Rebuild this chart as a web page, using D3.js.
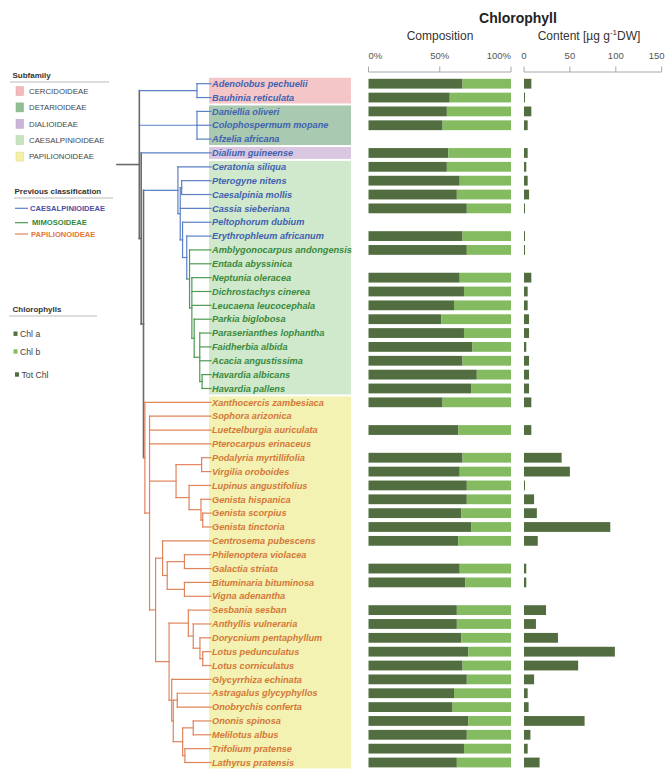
<!DOCTYPE html>
<html><head><meta charset="utf-8">
<script src="https://cdn.jsdelivr.net/npm/d3@7"></script>
<style>body{margin:0;background:#fff;} svg{display:block;font-family:"Liberation Sans",Arial,Helvetica,sans-serif;}</style>
</head><body><svg id="c" width="666" height="775"></svg>
<script>
// ---------------- DATA ----------------
const species = [
 "Adenolobus pechuelii","Bauhinia reticulata","Daniellia oliveri","Colophospermum mopane","Afzelia africana",
 "Dialium guineense","Ceratonia siliqua","Pterogyne nitens","Caesalpinia mollis","Cassia sieberiana",
 "Peltophorum dubium","Erythrophleum africanum","Amblygonocarpus andongensis","Entada abyssinica","Neptunia oleracea",
 "Dichrostachys cinerea","Leucaena leucocephala","Parkia biglobosa","Paraserianthes lophantha","Faidherbia albida",
 "Acacia angustissima","Havardia albicans","Havardia pallens","Xanthocercis zambesiaca","Sophora arizonica",
 "Luetzelburgia auriculata","Pterocarpus erinaceus","Podalyria myrtillifolia","Virgilia oroboides","Lupinus angustifolius",
 "Genista hispanica","Genista scorpius","Genista tinctoria","Centrosema pubescens","Philenoptera violacea",
 "Galactia striata","Bituminaria bituminosa","Vigna adenantha","Sesbania sesban","Anthyllis vulneraria",
 "Dorycnium pentaphyllum","Lotus pedunculatus","Lotus corniculatus","Glycyrrhiza echinata","Astragalus glycyphyllos",
 "Onobrychis conferta","Ononis spinosa","Melilotus albus","Trifolium pratense","Lathyrus pratensis"];

const subfamilies = ["CERCIDOIDEAE","DETARIOIDEAE","DIALIOIDEAE","CAESALPINIOIDEAE","PAPILIONOIDEAE"];
const subfamilyIndex = [0,0,1,1,1,2,3,3,3,3,3,3,3,3,3,3,3,3,3,3,3,3,3,
 4,4,4,4,4,4,4,4,4,4,4,4,4,4,4,4,4,4,4,4,4,4,4,4,4,4,4];

const previousClasses = ["CAESALPINIOIDEAE","MIMOSOIDEAE","PAPILIONOIDEAE"];
const previousIndex = [0,0,0,0,0,0,0,0,0,0,0,0,1,1,1,1,1,1,1,1,1,1,1,
 2,2,2,2,2,2,2,2,2,2,2,2,2,2,2,2,2,2,2,2,2,2,2,2,2,2,2];

// Chl a share of total chlorophyll (%), null = not measured
const chlA = [66,57,55,52,null,56,55,64,62,69,null,66,69,null,64,67,60,51,67,73,66,76,72,
 52,null,63,null,66,64,69,69,65,72,63,null,64,68,null,62,62,65,70,66,69,60,59,70,69,67,62];
// Total chlorophyll content (µg g-1 DW)
const totChl = [8,1,8,4,null,4,2.5,4,5.5,1,null,1,1,null,8,4,4,5.5,5.5,2.5,5.5,5.5,5.5,
 8,null,8,null,41,50,1,11,14,94,15,null,2.5,2.5,null,24,13,37,99,59,11,4,5,66,7,4,17];

const compTicks = [0,50,100];
const contentTicks = [0,50,100,150];
const chlLegend = ["Chl a","Chl b","Tot Chl"];

// phylogeny: internal nodes {d: node depth (0 root .. 100 tips), c: children}
const mimosoid = {d:78, c:["Amblygonocarpus andongensis","Entada abyssinica",
  {d:80.5, c:["Neptunia oleracea","Dichrostachys cinerea","Leucaena leucocephala",
    {d:83, c:["Parkia biglobosa",
      {d:89, c:["Paraserianthes lophantha","Faidherbia albida","Acacia angustissima",
        {d:91.5, c:["Havardia albicans","Havardia pallens"]}]}]}]}]};
const caesClade = {d:65.5, c:["Ceratonia siliqua",
  {d:68, c:[
    {d:69.5, c:["Pterogyne nitens","Caesalpinia mollis"]},
    "Cassia sieberiana",
    {d:70.5, c:["Peltophorum dubium",
      {d:75, c:["Erythrophleum africanum", mimosoid]}]}]}]};
const genistoids = {d:63.5, c:[
  {d:91, c:["Podalyria myrtillifolia","Virgilia oroboides"]},
  {d:77.5, c:["Lupinus angustifolius",
    {d:90.3, c:["Genista hispanica", {d:92.2, c:["Genista scorpius","Genista tinctoria"]}]}]}]};
const millettioids = {d:49, c:["Centrosema pubescens",
  {d:54, c:[
    {d:72.5, c:["Philenoptera violacea","Galactia striata"]},
    {d:72.5, c:["Bituminaria bituminosa","Vigna adenantha"]}]}]};
const robinioids = {d:76.7, c:["Sesbania sesban",
  {d:82, c:["Anthyllis vulneraria",
    {d:89.2, c:["Dorycnium pentaphyllum", {d:92.2, c:["Lotus pedunculatus","Lotus corniculatus"]}]}]}]};
const irlc = {d:58.8, c:["Glycyrrhiza echinata",
  {d:60.5, c:[
    {d:64.8, c:["Astragalus glycyphyllos","Onobrychis conferta"]},
    {d:70.6, c:[
      {d:82, c:["Ononis spinosa","Melilotus albus"]},
      {d:73, c:["Trifolium pratense","Lathyrus pratensis"]}]}]}]};
const papilionoids = {d:30, c:["Xanthocercis zambesiaca",
  {d:35, c:["Sophora arizonica","Luetzelburgia auriculata","Pterocarpus erinaceus", genistoids,
    {d:41.5, c:[millettioids, {d:56, c:[robinioids, irlc]}]}]}]};
const tree = {d:0, c:[{d:24, c:[
  {d:86, c:["Adenolobus pechuelii","Bauhinia reticulata"]},
  {d:86, c:["Daniellia oliveri","Colophospermum mopane","Afzelia africana"]},
  {d:26, c:["Dialium guineense", {d:28.5, c:[caesClade, papilionoids]}]}]}]};

// ---------------- STYLE ----------------
const FONT = '"Liberation Sans",Arial,Helvetica,sans-serif';
const bgColors = ["#f5c6c8","#a9c9b1","#d9c6e0","#d0e8cc","#f3f2b3"];
const boxColors = ["#f4b9bb","#8fbf95","#cbb4da","#c6e5be","#f4f0a4"];
const textColors = ["#3f62b0","#3a8a3c","#d57838"];
const lineColors = ["#5a80c6","#4d9a52","#e0845a"];
const legendColors = ["#4a4fa6","#2f8a3f","#e5763a"];
const GRAY = "#6a6a6a";
const DARK = "#526e40", LIGHT = "#84ba60";

const svg = d3.select("#c");

// scales
const y = d3.scalePoint().domain(species).range([83.7, 762.5]);
const step = y.step();
const xTree = d3.scaleLinear().domain([0,100]).range([117,210]);
const xComp = d3.scaleLinear().domain([0,100]).range([368.5,511]);
const xCont = d3.scaleLinear().domain([0,150]).range([524,661.7]);

// ---------------- SUBFAMILY BACKGROUNDS ----------------
subfamilies.forEach((s,i)=>{
  const rows = species.filter((n,k)=>subfamilyIndex[k]===i);
  const y0 = y(rows[0]) - step/2 + 1, y1 = y(rows[rows.length-1]) + step/2 - 1;
  svg.append("rect").attr("x",209).attr("y",y0).attr("width",142).attr("height",y1-y0).attr("fill",bgColors[i]);
});

// ---------------- TREE ----------------
const root = d3.hierarchy(tree, d => typeof d === "string" ? null : d.c);
root.eachAfter(n=>{
  if(!n.children){ n.px = xTree(100); n.py = y(n.data); n.cls = previousIndex[species.indexOf(n.data)]; }
  else {
    n.px = xTree(n.data.d);
    n.py = (n.children[0].py + n.children[n.children.length-1].py)/2;
    const set = new Set(n.leaves().map(l=>previousIndex[species.indexOf(l.data)]));
    n.cls = set.size===1 ? [...set][0] : (set.has(2) ? -1 : 0);
  }
});
const col = c => c<0 ? GRAY : lineColors[c];
const gT = svg.append("g").attr("fill","none").attr("stroke-linecap","square");
root.descendants().filter(n=>n.children && n.children.length>1).forEach(n=>{
  gT.append("line").attr("x1",n.px).attr("x2",n.px)
    .attr("y1",n.children[0].py).attr("y2",n.children[n.children.length-1].py)
    .attr("stroke",col(n.cls)).attr("stroke-width",n.cls<0?1.6:1.2);
});
root.descendants().filter(n=>n.parent).forEach(n=>{
  gT.append("line").attr("x1",n.parent.px).attr("x2",n.children?n.px:n.px+1)
    .attr("y1",n.py).attr("y2",n.py)
    .attr("stroke",col(n.cls)).attr("stroke-width",n.cls<0?1.6:1.2);
});

// species labels
svg.append("g").selectAll("text").data(species).join("text")
  .attr("x",212).attr("y",d=>y(d)).attr("dy","0.35em")
  .attr("font-size",9.2).attr("font-weight","bold").attr("font-style","italic")
  .attr("fill",(d,i)=>textColors[previousIndex[i]]).text(d=>d);

// ---------------- HEADERS & AXES ----------------
svg.append("text").attr("x",518).attr("y",23).attr("text-anchor","middle")
  .attr("font-size",14).attr("font-weight","bold").attr("fill","#222").text("Chlorophyll");
svg.append("text").attr("x",440).attr("y",40).attr("text-anchor","middle")
  .attr("font-size",12).attr("fill","#333").text("Composition");
const ct = svg.append("text").attr("x",589).attr("y",40).attr("text-anchor","middle")
  .attr("font-size",12).attr("fill","#333");
ct.append("tspan").text("Content [µg g");
ct.append("tspan").attr("font-size",8).attr("dy",-5).text("-1");
ct.append("tspan").attr("dy",5).text("DW]");

function drawAxis(scale, ticks, pct){
  const g = svg.append("g").attr("stroke","#a8a8a8").attr("stroke-width",1).attr("fill","none");
  const r = scale.range();
  g.append("line").attr("x1",r[0]).attr("x2",r[1]).attr("y1",72).attr("y2",72);
  ticks.forEach((t,i)=>{
    g.append("line").attr("x1",scale(t)).attr("x2",scale(t)).attr("y1",66.5).attr("y2",72);
    const last = i===ticks.length-1;
    const anchor = pct ? (i===0 ? "start" : (last ? "end" : "middle")) : "middle";
    svg.append("text").attr("x",scale(t) + (last && !pct ? -5 : 0)).attr("y",59)
      .attr("text-anchor",anchor).attr("font-size",9.5).attr("fill","#555")
      .text(pct ? t+"%" : t);
  });
}
drawAxis(xComp, compTicks, true);
drawAxis(xCont, contentTicks, false);

// ---------------- BARS ----------------
const BH = 9.8;
const gb = svg.append("g");
species.forEach((s,i)=>{
  if(chlA[i]!==null){
    gb.append("rect").attr("x",xComp(0)).attr("y",y(s)-BH/2).attr("width",xComp(chlA[i])-xComp(0)).attr("height",BH).attr("fill",DARK);
    gb.append("rect").attr("x",xComp(chlA[i])).attr("y",y(s)-BH/2).attr("width",xComp(100)-xComp(chlA[i])).attr("height",BH).attr("fill",LIGHT);
  }
  if(totChl[i]!==null){
    gb.append("rect").attr("x",xCont(0)).attr("y",y(s)-BH/2).attr("width",Math.max(1,xCont(totChl[i])-xCont(0))).attr("height",BH).attr("fill",DARK);
  }
});

// ---------------- LEGENDS ----------------
const lg = svg.append("g").attr("font-family",FONT);
function header(txt, x, yb, x0, x1, yl){
  lg.append("text").attr("x",x).attr("y",yb).attr("font-size",8).attr("font-weight","bold").attr("fill","#333").text(txt);
  lg.append("line").attr("x1",x0).attr("x2",x1).attr("y1",yl).attr("y2",yl).attr("stroke","#bbb").attr("stroke-width",1);
}
header("Subfamily",12.5,77.5,10,109,82);
subfamilies.forEach((s,i)=>{
  const cy = 91 + i*16.4;
  lg.append("rect").attr("x",16).attr("y",cy-4.5).attr("width",7.5).attr("height",9)
    .attr("fill",boxColors[i]).attr("stroke",d3.color(boxColors[i]).darker(0.3)).attr("stroke-width",0.5);
  lg.append("text").attr("x",29).attr("y",cy).attr("dy","0.35em").attr("font-size",7.8).attr("fill","#444").text(s);
});
header("Previous classification",14.5,194,14,113,198);
previousClasses.forEach((s,i)=>{
  const cy = [208.3,222.7,234][i];
  lg.append("line").attr("x1",15).attr("x2",28).attr("y1",cy).attr("y2",cy).attr("stroke",lineColors[i]).attr("stroke-width",1.2);
  lg.append("text").attr("x",[30,32,31][i]).attr("y",cy).attr("dy","0.35em").attr("font-size",7.6)
    .attr("font-weight","bold").attr("fill",legendColors[i]).text(s);
});
header("Chlorophylls",12.5,312,9,97,316);
chlLegend.forEach((s,i)=>{
  const cy = [333.7,351.5,374.5][i];
  const sx = i===2 ? 15 : 13.5;
  lg.append("rect").attr("x",sx).attr("y",cy-2.2).attr("width",4).attr("height",4.4).attr("fill",i===1?LIGHT:DARK);
  lg.append("text").attr("x",sx+6.5).attr("y",cy).attr("dy","0.35em").attr("font-size",8.7).attr("fill","#444").text(s);
});
</script>
</body></html>
